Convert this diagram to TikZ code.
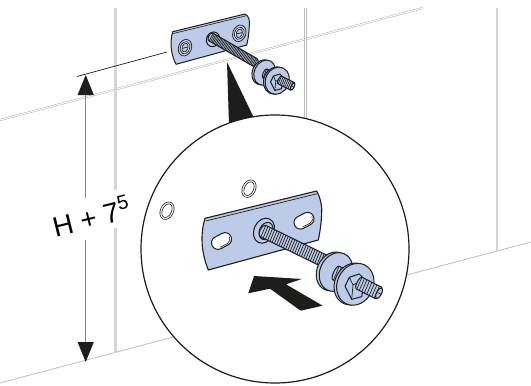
\documentclass[tikz,border=0pt]{standalone}
\usepackage{fontspec}
\setmainfont{Liberation Sans}
\usetikzlibrary{arrows.meta}
\definecolor{ink}{HTML}{1D1D1B}
\definecolor{steel}{HTML}{BCCBE8}
\definecolor{tile}{HTML}{BDBDBD}
\definecolor{tilethick}{HTML}{D4D4D4}
\definecolor{dimgray}{HTML}{858585}
\tikzset{
  tiledouble/.style={draw=tile,line width=.6pt,double=white,double distance=.9pt},
  tilethin/.style={draw=tile,line width=.8pt},
  tilebar/.style={draw=tilethick,line width=2.6pt},
  dimline/.style={draw=dimgray,line width=1pt,-{Triangle[length=20pt,width=16pt,color=ink,fill=ink]}},
  part/.style={draw=ink,line width=1pt,fill=steel,line join=round},
  thinpart/.style={draw=ink,line width=.7pt,fill=steel,line join=round},
  thread/.style={draw=ink,line width=.65pt},
  solidblack/.style={fill=ink,draw=none},
  wallhole/.style={draw=ink,line width=.6pt,fill=white},
}
% threaded rod: centre line starts at local (0,0), runs along +x
\newcommand{\rodpiece}[5]{% length, half width, hatch step, hatch width, end radius
  \draw[part] (0,-#2) -- (#1,-#2) arc[start angle=-90,end angle=90,x radius=#5,y radius=#2] -- (0,#2) arc[start angle=90,end angle=270,x radius=#5,y radius=#2] -- cycle;
  \foreach \hx in {0,#3,...,#1}{\draw[draw=ink,line width=#4] (\hx,-#2) -- (\hx+.3*#3,#2);}
}
% washers, spacer, nut and rod end, with the first washer at the origin
\newcommand{\nutgroup}{%
  \draw[part] (-3,-.6) ellipse[x radius=16,y radius=20,rotate=-25];
  \draw[part] (0,0) ellipse[x radius=16,y radius=20,rotate=-25];
  \begin{scope}[shift={(0,1)},rotate=-25]
    \rodpiece{8}{7.5}{2.4}{.7pt}{2.5}
  \end{scope}
  \draw[part] (16.7,12) ellipse[x radius=18,y radius=21.5,rotate=-25];
  \draw[part] (19.3,12.3) ellipse[x radius=18,y radius=21.5,rotate=-25];
  \draw[part] (9,14.3) -- (13.3,5.3) -- (23.3,2) -- (29,8) -- (25.7,24.7) -- (15.7,27.3) -- cycle;
  \draw[thinpart,fill=none] (13.3,5.3) -- (17,13) -- (15.7,27.3);
  \draw[thinpart,fill=none] (17,13) -- (27,8);
  \begin{scope}[shift={(23,11)},rotate=-27]
    \rodpiece{22}{6.5}{2.8}{.65pt}{2}
    \draw[part] (22.5,0) ellipse[x radius=2.4,y radius=6];
    \draw[thread] (21,0) -- (25,0);
  \end{scope}
}
\begin{document}
\begin{tikzpicture}[x=1pt,y=-1pt]
\useasboundingbox (0,0) rectangle (531,386);
% --- wall ---
\coordinate (upA) at (0,120);
\coordinate (upB) at (423,8);
\coordinate (lowA) at (0,383);
\coordinate (lowB) at (531,242);
\draw[tiledouble] (upA) -- (upB);
\draw[tilethin] (lowA) -- (lowB);
\draw[tilebar] (115.5,8) -- (115.5,190);
\draw[tilebar] (115.5,228) -- (115.5,353);
\draw[tiledouble] (305.5,8) -- (305.5,120);
\draw[tilebar] (497,8) -- (497,251);
% --- dimension ---
\coordinate (extA) at (77,76.5);
\coordinate (extB) at (167,52);
\draw[draw=ink,line width=.7pt] (extA) -- (extB);
\node[rotate=14,font=\fontsize{28}{30}\selectfont,inner sep=0pt] (dimtext) at (91,216) {H + 7\raisebox{.36em}{\fontsize{20}{22}\selectfont 5}};
\coordinate (dimtop) at (85.7,75);
\coordinate (dimbot) at (85.7,362);
\coordinate (gapup) at (85.7,198);
\coordinate (gapdn) at (85.7,240);
\draw[dimline] (gapup) -- (dimtop);
\draw[dimline] (gapdn) -- (dimbot);
% --- small plate ---
\draw[part] (172.7,31.7) -- (245,14) .. controls (249,16) and (250,21) .. (249.3,26) .. controls (249,33) and (248,40) .. (246.7,45) -- (176,64.3) .. controls (172,57) and (169,44) .. cycle;
\draw[draw=ink,line width=.6pt] (173.3,33.5) -- (246,15.8);
\foreach \p in {(185,47.7),(239.3,33.3)}{
  \draw[thinpart,fill=steel] \p ellipse[x radius=6.5,y radius=8.5,rotate=-20];
  \draw[thinpart,fill=white] \p ellipse[x radius=4.6,y radius=6.3,rotate=-20];
  \draw[thinpart,fill=steel] \p ellipse[x radius=3,y radius=4.5,rotate=-20];
  \draw[draw=ink,line width=.7pt] \p ++(-3,.7) -- ++(6,-1.4);
}
\draw[part] (213,39.3) ellipse[x radius=6.5,y radius=7.5,rotate=-25];
\begin{scope}[shift={(211,37)},rotate=-30]
  \rodpiece{51}{4.3}{1.5}{.7pt}{2.5}
\end{scope}
\begin{scope}[shift={(264.7,72.7)},scale=.65]
  \nutgroup
\end{scope}
% --- pointer and magnifier ---
\coordinate (ptrTip) at (227,62);
\coordinate (ptrL) at (229,125);
\coordinate (ptrR) at (254,118);
\fill[solidblack] (ptrTip) -- (ptrR) -- (ptrL) -- cycle;
\node[circle,draw=ink,fill=white,line width=1.2pt,minimum size=268pt,inner sep=0pt] (lens) at (275,249) {};
% --- wall holes in the lens ---
\foreach \p in {(249,188.7),(167,210.7)}{
  \draw[wallhole] \p ellipse[x radius=6.6,y radius=9.2,rotate=-25];
  \draw[wallhole] \p ellipse[x radius=4.6,y radius=7.2,rotate=-25];
}
% --- large plate ---
\draw[part,line width=1.1pt] (205,218.3) -- (316.7,191) .. controls (320,197) and (322,204) .. (321.7,212) .. controls (321.5,222) and (320,232) .. (318.3,240) -- (208.3,270) .. controls (203,257) and (199,238) .. cycle;
\draw[draw=ink,line width=.7pt] (205.7,221) -- (317.7,193.6);
\foreach \px/\py in {221.5/241,304/220.7}{
  \begin{scope}[shift={(\px,\py)},rotate=28]
    \draw[part,fill=white] (-4,-6.5) -- (4,-6.5) arc[start angle=-90,end angle=90,radius=6.5] -- (-4,6.5) arc[start angle=90,end angle=270,radius=6.5] -- cycle;
    \draw[draw=ink,line width=.6pt] (-4,5) -- (4,5) arc[start angle=90,end angle=0,radius=5];
  \end{scope}
}
\draw[part] (264,230.7) ellipse[x radius=10,y radius=13,rotate=-25];
\draw[part] (266,231) ellipse[x radius=6.5,y radius=9,rotate=-25];
\begin{scope}[shift={(263,231)},rotate=-26]
  \rodpiece{68}{6.3}{2.5}{.7pt}{3}
\end{scope}
\begin{scope}[shift={(336,272)}]
  \nutgroup
\end{scope}
% --- push arrow ---
\fill[solidblack] (248.3,293.3) -- (254,276) -- (301.7,279) -- (286,284.3) -- (322.7,305.7) -- (300.7,310.7) -- (270,288.7) -- cycle;
\end{tikzpicture}
\end{document}
